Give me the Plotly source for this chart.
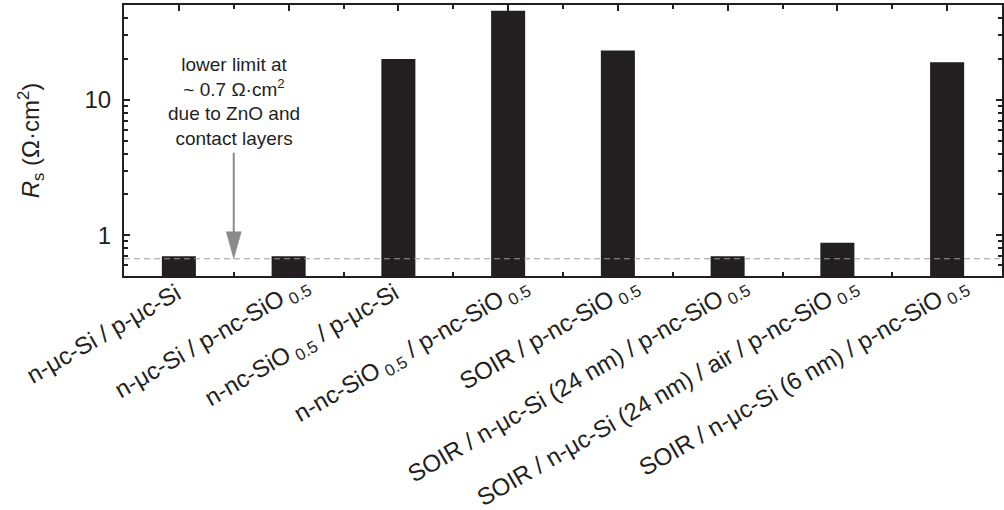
import plotly.graph_objects as go

# Junction stacks and their series resistance (Ohm cm^2)
categories = [
    "n-μc-Si / p-μc-Si",
    "n-μc-Si / p-nc-SiO<sub> 0.5</sub>",
    "n-nc-SiO<sub> 0.5</sub> / p-μc-Si",
    "n-nc-SiO<sub> 0.5</sub> / p-nc-SiO<sub> 0.5</sub>",
    "SOIR / p-nc-SiO<sub> 0.5</sub>",
    "SOIR / n-μc-Si (24 nm) / p-nc-SiO<sub> 0.5</sub>",
    "SOIR / n-μc-Si (24 nm) / air / p-nc-SiO<sub> 0.5</sub>",
    "SOIR / n-μc-Si (6 nm) / p-nc-SiO<sub> 0.5</sub>",
]
rs_values = [0.70, 0.70, 20.0, 45.4, 23.1, 0.70, 0.88, 18.9]
lower_limit = 0.67
y_tick_vals = [1, 10]
y_tick_text = ["1", "10"]

FONT = "Liberation Sans, Arial, sans-serif"
INK = "#231f20"
GRAY = "#8a8a8a"

positions = list(range(len(categories)))

fig = go.Figure(
    go.Bar(
        x=positions,
        y=rs_values,
        marker=dict(color=INK, line=dict(width=0)),
        width=0.31,
        hoverinfo="skip",
    )
)

# dashed line for the measurement floor
fig.add_shape(
    type="line", xref="paper", x0=0, x1=1, yref="y", y0=lower_limit, y1=lower_limit,
    line=dict(color="#9a9a9a", width=1, dash="6px,4px"), layer="above",
)
# arrow pointing at the floor: shaft + filled head
fig.add_shape(
    type="line", xref="x", xsizemode="pixel", xanchor=0.5, x0=0, x1=0,
    yref="y", ysizemode="pixel", yanchor=lower_limit, y0=26, y1=106,
    line=dict(color=GRAY, width=2),
)
fig.add_shape(
    type="path", xref="x", xsizemode="pixel", xanchor=0.5,
    yref="y", ysizemode="pixel", yanchor=lower_limit,
    path="M0,0 L-7.5,27 L7.5,27 Z",
    fillcolor=GRAY, line=dict(color=GRAY, width=0.5),
)
fig.add_annotation(
    x=0.5, y=1, xref="x", yref="y", yshift=-2,
    text="lower limit at<br>~ 0.7 Ω·cm<sup>2</sup><br>due to ZnO and<br>contact layers",
    showarrow=False, align="center", xanchor="center", yanchor="middle",
    font=dict(family=FONT, size=19, color=INK),
)

# slanted category labels, right end placed just past each bar centre
for pos, label in zip(positions, categories):
    has_sub_end = label.endswith("</sub>")
    fig.add_annotation(
        x=pos, y=0, xref="x", yref="paper",
        text=label, textangle=-30, showarrow=False,
        xanchor="right", yanchor="top",
        xshift=29 if has_sub_end else 9,
        yshift=8 if has_sub_end else 0,
        font=dict(family=FONT, size=24, color=INK),
    )

fig.update_layout(
    width=1004, height=510,
    margin=dict(l=124, r=2, t=5, b=234),
    paper_bgcolor="white", plot_bgcolor="white",
    showlegend=False,
    font=dict(family=FONT, size=24, color=INK),
    xaxis=dict(
        range=[-0.5, 7.5], automargin=False,
        tickmode="array", tickvals=positions, showticklabels=False,
        ticks="inside", ticklen=6, tickwidth=2, tickcolor=INK,
        minor=dict(ticks="inside", ticklen=4, tickwidth=2, tick0=0.5, dtick=1, tickcolor=INK, showgrid=False),
        showline=True, linecolor=INK, linewidth=2, mirror="allticks",
        showgrid=False, zeroline=False,
    ),
    yaxis=dict(
        type="log", automargin=False,
        range=[-0.30103, 1.69897],
        tickmode="array", tickvals=y_tick_vals, ticktext=y_tick_text,
        ticks="inside", ticklen=6, tickwidth=2, tickcolor=INK,
        ticklabelstandoff=6,
        minor=dict(ticks="inside", ticklen=4, tickwidth=1.5, dtick="D1", tickcolor=INK, showgrid=False),
        showline=True, linecolor=INK, linewidth=2, mirror="allticks",
        showgrid=False, zeroline=False,
        tickfont=dict(family=FONT, size=24, color=INK),
        title=dict(text="<i>R</i><sub>s</sub> (Ω·cm<sup>2</sup>)", standoff=38,
                   font=dict(family=FONT, size=24, color=INK)),
    ),
)

fig.write_html("out.html")
